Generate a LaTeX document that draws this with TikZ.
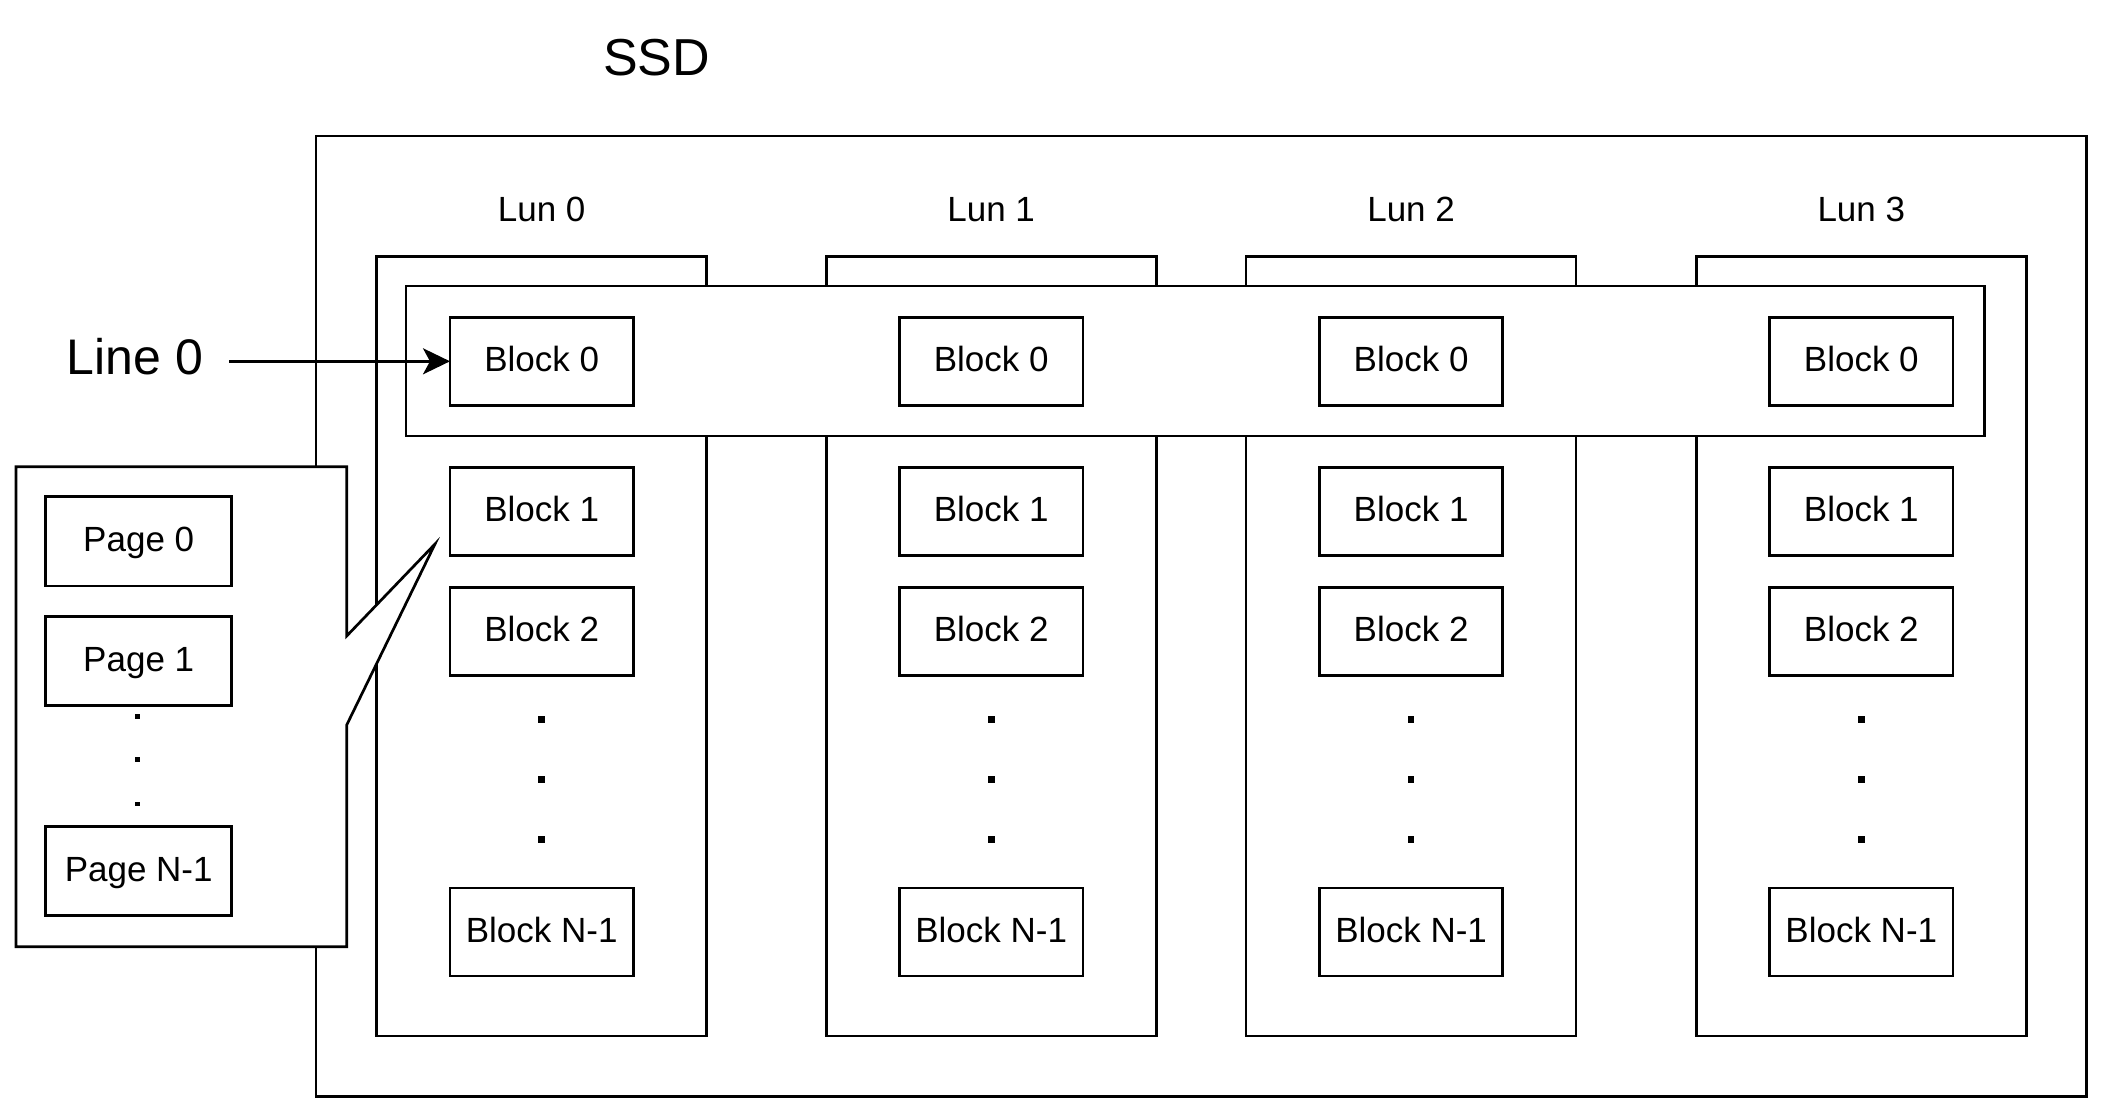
\documentclass[tikz,border=0pt]{standalone}
\usepackage{fontspec}
\setmainfont{Liberation Sans}
\usetikzlibrary{positioning, arrows.meta}

\begin{document}
\begin{tikzpicture}[x=0.5pt, y=-0.5pt, line width=1.35pt,
    box/.style={draw, line width=1.35pt, inner sep=0pt, outer sep=0pt},
    lun/.style={box, minimum width=165pt, minimum height=389.7pt, anchor=north west},
    blk/.style={box, fill=white, minimum width=91.7pt, minimum height=44pt, text height=14pt, text depth=3.5pt, font=\fontsize{17.5}{21}\selectfont},
    pg/.style={box, fill=white, minimum width=93pt, minimum height=44.6pt, text height=14pt, text depth=3.5pt, font=\fontsize{17.5}{21}\selectfont},
    lbl/.style={font=\fontsize{17.5}{21}\selectfont},
    bigdot/.style={fill, inner sep=0pt, minimum size=3.3pt},
    smalldot/.style={fill, inner sep=0pt, minimum size=2.35pt},
    arr/.style={-{Stealth[length=13.5pt, width=13pt, inset=3.5pt]}}]

        \useasboundingbox (0,0) rectangle (2103,1113);

        \node[box, minimum width=885.35pt, minimum height=480.35pt, anchor=north west] (ssd) at (316,136) {};
        \node[font=\fontsize{26}{31}\selectfont] (ssdlabel) at (656.7,58) {SSD};

        % luns
        \foreach \i/\x in {0/376.7, 1/826.2, 2/1246.1, 3/1696.3} {
            \node[lun] (lun\i) at (\x,256.7) {};
            \node[lbl] (lunlabel\i) at (\x+165,209.5) {Lun \i};
        }

        \node[box, fill=white, minimum width=789.15pt, minimum height=75pt, anchor=north west] (line0) at (406,286) {};

        \foreach \i/\x in {0/376.7, 1/826.2, 2/1246.1, 3/1696.3} {
            \node[blk] (b\i0) at (\x+165,361.3) {Block 0};
            \node[blk, below=31pt of b\i0] (b\i1) {Block 1};
            \node[blk, below=16pt of b\i1] (b\i2) {Block 2};
            \node[blk, below=106.3pt of b\i2] (b\i3) {Block N-1};
            \node[bigdot] (d\i a) at (\x+165,719.3) {};
            \node[bigdot] (d\i b) at (\x+165,779.3) {};
            \node[bigdot] (d\i c) at (\x+165,839.3) {};
        }

        \node[font=\fontsize{25}{30}\selectfont, inner xsep=12.5pt] (linelabel) at (135,356.7) {Line 0};
        \draw[arr] (b00.west -| linelabel.east) -- (b00.west);

        % page callout
        \coordinate (tip) at (435,544);
        \draw[fill=white] (16,466.7) -- (346.7,466.7) -- (346.7,636) -- (tip)
            -- (346.7,725) -- (346.7,946.7) -- (16,946.7) -- cycle;
        \node[pg] (p0) at (138.7,541.3) {Page 0};
        \node[pg, below=15.35pt of p0] (p1) {Page 1};
        \node[pg, below=60.35pt of p1] (p2) {Page N-1};
        \node[smalldot] (pd1) at (137.7,716.7) {};
        \node[smalldot] (pd2) at (137.7,759.3) {};
        \node[smalldot] (pd3) at (137.7,804) {};
\end{tikzpicture}
\end{document}
